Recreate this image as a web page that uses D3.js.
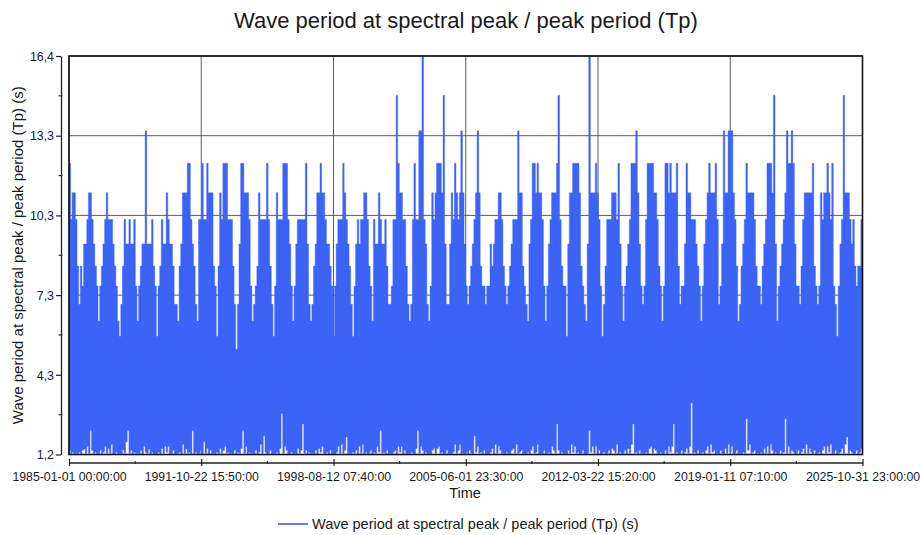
<!DOCTYPE html>
<html>
<head>
<meta charset="utf-8">
<script src="https://cdn.jsdelivr.net/npm/d3@7"></script>
<style>
  html, body { margin: 0; padding: 0; background: #ffffff; }
  svg { display: block; }
  text { font-family: "Liberation Sans", Arial, Helvetica, sans-serif; fill: #1a1a1a; }
</style>
</head>
<body>
<svg id="chart" width="920" height="535"></svg>
<script>
// ---- data -----------------------------------------------------------------
const chartTitle = "Wave period at spectral peak / peak period (Tp)";
const seriesName = "Wave period at spectral peak / peak period (Tp) (s)";
const xTitle = "Time";

const startTime = "1985-01-01 00:00:00";
const endTime = "2025-10-31 23:00:00";

// x tick labels (the record split into six equal spans)
const xTickLabels = [
  "1985-01-01 00:00:00", "1991-10-22 15:50:00", "1998-08-12 07:40:00",
  "2005-06-01 23:30:00", "2012-03-22 15:20:00", "2019-01-11 07:10:00",
  "2025-10-31 23:00:00"
];

// y axis range and tick positions (seconds)
const yDomain = [1.24, 16.36];
const yTicks = [1.24, 4.264, 7.288, 10.312, 13.336, 16.36];

// Monthly maximum of Tp (s), Jan..Dec per row, 1985-01 .. 2025-10
const tpMonthlyMax = [
  12.29, 10.16, 11.17, 11.17, 10.16, 8.39, 6.94, 8.39, 7.63, 9.23, 9.23, 10.16,   // 1985
  11.17, 11.17, 10.16, 9.23, 8.39, 7.63, 6.31, 7.63, 8.39, 9.23, 10.16, 11.17,    // 1986
  10.16, 10.16, 10.16, 9.23, 8.39, 7.63, 6.31, 5.73, 6.94, 8.39, 10.16, 9.23,     // 1987
  9.23, 10.16, 9.23, 9.23, 10.16, 7.63, 6.31, 7.63, 8.39, 9.23, 9.23, 13.52,      // 1988
  9.23, 9.23, 9.23, 10.16, 8.39, 7.63, 5.73, 7.63, 8.39, 10.16, 9.23, 9.23,       // 1989
  11.17, 10.16, 9.23, 9.23, 8.39, 6.94, 6.94, 6.31, 8.39, 9.23, 11.17, 11.17,     // 1990
  11.17, 12.29, 12.29, 10.16, 9.23, 8.39, 6.94, 6.31, 10.16, 10.16, 12.29, 10.16, // 1991
  10.16, 12.29, 11.17, 11.17, 11.17, 8.39, 7.63, 5.73, 8.39, 11.17, 10.16, 12.29, // 1992
  12.29, 12.29, 10.16, 10.16, 10.16, 8.39, 6.94, 5.23, 6.94, 9.23, 12.29, 12.29,  // 1993
  11.17, 11.17, 11.17, 10.16, 7.63, 6.31, 6.94, 7.63, 8.39, 11.17, 10.16, 10.16,  // 1994
  10.16, 10.16, 12.29, 10.16, 8.39, 6.94, 5.73, 7.63, 11.17, 10.16, 10.16, 10.16, // 1995
  12.29, 12.29, 12.29, 10.16, 9.23, 7.63, 6.31, 7.63, 9.23, 10.16, 10.16, 10.16,  // 1996
  10.16, 10.16, 12.29, 9.23, 6.94, 6.31, 6.94, 8.39, 9.23, 11.17, 11.17, 12.29,   // 1997
  11.17, 11.17, 10.16, 9.23, 9.23, 8.39, 7.63, 5.73, 7.63, 9.23, 10.16, 10.16,    // 1998
  10.16, 12.29, 11.17, 10.16, 9.23, 8.39, 6.94, 5.73, 7.63, 9.23, 10.16, 9.23,    // 1999
  10.16, 10.16, 11.17, 11.17, 10.16, 8.39, 7.63, 6.31, 10.16, 9.23, 9.23, 11.17,  // 2000
  10.16, 9.23, 9.23, 10.16, 8.39, 6.94, 6.94, 7.63, 10.16, 10.16, 14.87, 12.29,   // 2001
  11.17, 11.17, 10.16, 10.16, 8.39, 6.94, 6.31, 6.94, 10.16, 12.29, 10.16, 10.16, // 2002
  13.52, 13.52, 16.36, 10.16, 9.23, 6.94, 6.31, 7.63, 11.17, 10.16, 11.17, 12.29, // 2003
  12.29, 12.29, 11.17, 14.87, 9.23, 6.94, 6.94, 9.23, 11.17, 10.16, 12.29, 11.17, // 2004
  10.16, 11.17, 13.52, 11.17, 9.23, 7.63, 6.94, 7.63, 8.39, 9.23, 10.16, 11.17,   // 2005
  13.52, 11.17, 8.39, 7.63, 7.63, 6.94, 7.63, 7.63, 9.23, 8.39, 9.23, 10.16,      // 2006
  10.16, 11.17, 11.17, 10.16, 8.39, 7.63, 6.94, 7.63, 8.39, 9.23, 10.16, 10.16,   // 2007
  10.16, 13.52, 11.17, 11.17, 8.39, 7.63, 6.94, 6.31, 9.23, 10.16, 12.29, 12.29,  // 2008
  11.17, 12.29, 11.17, 11.17, 10.16, 7.63, 6.31, 7.63, 9.23, 10.16, 11.17, 11.17, // 2009
  11.17, 12.29, 14.87, 10.16, 8.39, 7.63, 7.63, 5.73, 9.23, 11.17, 11.17, 12.29,  // 2010
  12.29, 12.29, 12.29, 11.17, 8.39, 7.63, 6.94, 6.31, 9.23, 16.36, 11.17, 11.17,  // 2011
  11.17, 12.29, 11.17, 10.16, 7.63, 5.73, 6.94, 8.39, 10.16, 10.16, 10.16, 11.17, // 2012
  11.17, 11.17, 10.16, 12.29, 9.23, 7.63, 6.31, 7.63, 8.39, 9.23, 10.16, 12.29,   // 2013
  12.29, 12.29, 13.52, 11.17, 9.23, 7.63, 6.94, 7.63, 10.16, 12.29, 12.29, 12.29, // 2014
  12.29, 11.17, 11.17, 10.16, 8.39, 7.63, 6.31, 7.63, 12.29, 12.29, 11.17, 12.29, // 2015
  11.17, 11.17, 11.17, 12.29, 8.39, 6.94, 7.63, 7.63, 9.23, 12.29, 11.17, 11.17,  // 2016
  10.16, 10.16, 10.16, 9.23, 8.39, 7.63, 6.31, 7.63, 9.23, 10.16, 11.17, 12.29,   // 2017
  11.17, 11.17, 11.17, 12.29, 10.16, 6.94, 7.63, 9.23, 13.52, 11.17, 11.17, 13.52,// 2018
  13.52, 13.52, 11.17, 10.16, 8.39, 6.31, 6.94, 8.39, 9.23, 10.16, 12.29, 11.17,  // 2019
  11.17, 11.17, 11.17, 10.16, 8.39, 7.63, 7.63, 6.94, 8.39, 9.23, 10.16, 12.29,   // 2020
  12.29, 12.29, 11.17, 14.87, 9.23, 6.31, 7.63, 8.39, 9.23, 10.16, 11.17, 13.52,  // 2021
  12.29, 12.29, 13.52, 12.29, 9.23, 7.63, 7.63, 6.94, 8.39, 10.16, 11.17, 11.17,  // 2022
  11.17, 11.17, 11.17, 12.29, 8.39, 7.63, 6.94, 7.63, 11.17, 10.16, 11.17, 11.17, // 2023
  12.29, 11.17, 10.16, 12.29, 7.63, 6.94, 5.73, 7.63, 9.23, 10.16, 14.87, 11.17,  // 2024
  11.17, 11.17, 10.16, 9.23, 10.16, 8.39, 7.63, 8.39, 8.39, 10.16                 // 2025
];

// Monthly minimum of Tp (s), same months
const tpMonthlyMin = [
  1.40, 1.27, 1.33, 1.27, 1.29, 1.27, 1.33, 1.27, 1.40, 1.45, 1.29, 1.55, // 1985
  1.29, 2.15, 1.40, 1.27, 1.33, 1.27, 1.27, 1.40, 1.27, 1.33, 1.55, 1.29, // 1986
  1.47, 1.29, 1.63, 1.27, 1.27, 1.33, 1.27, 1.29, 1.27, 1.40, 1.29, 1.72, // 1987
  2.15, 1.29, 1.40, 1.27, 1.33, 1.27, 1.29, 1.27, 1.40, 1.27, 1.55, 1.33, // 1988
  1.29, 1.45, 1.27, 1.33, 1.27, 1.29, 1.27, 1.33, 1.27, 1.47, 1.29, 1.55, // 1989
  1.33, 1.55, 1.27, 1.29, 1.40, 1.27, 1.27, 1.29, 1.33, 1.27, 1.63, 1.29, // 1990
  1.45, 1.29, 1.33, 1.27, 2.15, 1.27, 1.33, 1.27, 1.29, 1.40, 1.27, 1.72, // 1991
  1.29, 1.47, 1.27, 1.40, 1.27, 1.29, 1.27, 1.33, 1.27, 1.47, 1.29, 1.40, // 1992
  1.55, 1.29, 1.33, 1.27, 1.29, 1.27, 1.40, 1.27, 1.33, 1.29, 1.47, 2.15, // 1993
  1.29, 1.55, 1.27, 1.33, 1.27, 1.29, 1.27, 1.40, 1.27, 1.33, 1.63, 1.29, // 1994
  1.95, 1.33, 1.27, 1.29, 1.40, 1.27, 1.29, 1.27, 1.33, 1.27, 1.47, 2.80, // 1995
  1.29, 1.55, 1.40, 1.27, 1.27, 1.33, 1.27, 1.29, 1.27, 1.47, 1.29, 1.40, // 1996
  2.40, 1.29, 1.40, 1.27, 1.33, 1.27, 1.29, 1.27, 1.40, 1.27, 1.47, 1.33, // 1997
  1.55, 1.29, 1.27, 1.33, 1.27, 1.40, 1.27, 1.29, 1.27, 1.33, 1.55, 1.29, // 1998
  1.63, 1.29, 1.40, 1.90, 1.27, 1.29, 1.27, 1.33, 1.29, 1.40, 1.27, 1.55, // 1999
  1.29, 1.63, 1.27, 1.33, 1.27, 1.29, 1.40, 1.27, 1.33, 1.29, 1.55, 1.33, // 2000
  2.15, 1.29, 1.33, 1.27, 1.40, 1.27, 1.29, 1.27, 1.33, 1.40, 1.27, 1.55, // 2001
  1.33, 1.55, 1.27, 1.40, 1.27, 1.29, 1.27, 1.33, 1.29, 1.27, 1.47, 2.15, // 2002
  1.29, 1.55, 1.40, 1.27, 1.33, 1.27, 1.29, 1.27, 1.40, 1.47, 1.29, 1.47, // 2003
  1.55, 1.29, 1.33, 1.27, 1.29, 1.40, 1.27, 1.29, 1.27, 1.33, 1.63, 1.29, // 2004
  1.40, 1.63, 1.27, 1.29, 1.27, 1.33, 1.27, 1.40, 1.29, 1.27, 1.95, 1.33, // 2005
  1.55, 1.29, 1.33, 1.27, 1.40, 1.27, 1.29, 1.27, 1.33, 1.47, 1.27, 1.63, // 2006
  1.29, 1.55, 1.40, 1.27, 1.29, 1.27, 1.33, 1.27, 1.29, 1.40, 1.47, 1.29, // 2007
  1.63, 1.29, 1.33, 1.40, 1.27, 1.29, 1.27, 1.33, 1.27, 1.40, 1.55, 1.29, // 2008
  1.33, 1.63, 1.27, 1.29, 1.27, 1.40, 1.27, 1.29, 1.33, 1.27, 1.55, 1.40, // 2009
  1.29, 2.40, 1.40, 1.27, 1.33, 1.27, 1.29, 1.27, 1.40, 1.29, 1.63, 1.33, // 2010
  1.55, 1.29, 1.33, 1.27, 1.29, 1.40, 1.27, 1.27, 1.29, 2.15, 1.33, 1.55, // 2011
  1.29, 1.55, 1.27, 1.40, 1.27, 1.29, 1.33, 1.27, 1.29, 1.40, 1.27, 1.47, // 2012
  1.40, 1.29, 1.63, 1.27, 1.33, 1.27, 1.29, 1.40, 1.27, 1.47, 1.29, 1.63, // 2013
  2.40, 1.29, 1.33, 1.27, 1.40, 1.27, 1.29, 1.27, 1.33, 1.27, 1.47, 1.55, // 2014
  1.29, 1.47, 1.40, 1.29, 1.27, 1.33, 1.27, 1.29, 1.40, 1.27, 1.55, 1.33, // 2015
  1.55, 2.40, 1.29, 1.33, 1.27, 1.29, 1.40, 1.27, 1.33, 1.47, 1.29, 1.55, // 2016
  3.20, 1.29, 1.33, 1.27, 1.40, 1.27, 1.29, 1.33, 1.27, 1.40, 1.55, 1.29, // 2017
  1.63, 1.33, 1.40, 1.27, 1.29, 1.27, 1.40, 1.29, 1.27, 1.47, 1.29, 1.63, // 2018
  1.33, 1.55, 1.27, 1.29, 1.40, 1.27, 1.29, 1.27, 1.33, 1.29, 2.60, 1.40, // 2019
  1.63, 1.29, 1.33, 1.40, 1.27, 1.29, 1.27, 1.33, 1.27, 1.47, 1.29, 1.55, // 2020
  1.29, 1.63, 1.40, 1.27, 1.33, 1.27, 1.29, 1.40, 1.29, 1.33, 2.60, 1.29, // 2021
  1.55, 1.29, 1.40, 1.33, 1.27, 1.29, 1.40, 1.27, 1.33, 1.47, 1.29, 1.63, // 2022
  1.29, 1.47, 1.33, 1.27, 1.40, 1.27, 1.29, 1.33, 1.27, 1.40, 1.55, 1.29, // 2023
  1.55, 1.33, 1.63, 1.27, 1.29, 1.40, 1.27, 1.29, 1.33, 1.47, 1.29, 1.63, // 2024
  1.90, 1.29, 1.40, 1.33, 1.27, 1.29, 1.40, 1.27, 1.33, 1.47              // 2025
];

// ---- layout ---------------------------------------------------------------
const W = 920, H = 535;
const plot = { left: 69, right: 862.5, top: 56, bottom: 454.5 };
const yAxisX = 61;      // detached y axis line
const xAxisY = 462.5;   // detached x axis line
const blue = "#3b63f5";

const parseTime = d3.utcParse("%Y-%m-%d %H:%M:%S");
const t0 = parseTime(startTime), t1 = parseTime(endTime);

const x = d3.scaleUtc().domain([t0, t1]).range([plot.left, plot.right]);
const y = d3.scaleLinear().domain(yDomain).range([plot.bottom, plot.top]);

const svg = d3.select("#chart");

// title
svg.append("text")
  .attr("x", 466).attr("y", 28)
  .attr("text-anchor", "middle")
  .style("font-size", "22px")
  .text(chartTitle);

// ---- grid -----------------------------------------------------------------
const xTickDates = xTickLabels.map(parseTime);
const grid = svg.append("g").attr("class", "grid");
grid.selectAll("line.h").data(yTicks).join("line")
  .attr("class", "h")
  .attr("x1", plot.left).attr("x2", plot.right)
  .attr("y1", d => y(d)).attr("y2", d => y(d))
  .attr("stroke", "#4a4a4a").attr("stroke-width", 0.9);
grid.selectAll("line.v").data(xTickDates).join("line")
  .attr("class", "v")
  .attr("x1", d => x(d)).attr("x2", d => x(d))
  .attr("y1", plot.top).attr("y2", plot.bottom)
  .attr("stroke", "#4a4a4a").attr("stroke-width", 0.9);

// ---- series: monthly envelope of the hourly record -------------------------
const months = tpMonthlyMax.map((hi, i) => ({
  t: d3.utcMonth.offset(t0, i), hi, lo: tpMonthlyMin[i]
}));
const last = months[months.length - 1];
const envelope = months.concat([{ t: t1, hi: last.hi, lo: last.lo }]);

svg.append("clipPath").attr("id", "plot-clip")
  .append("rect")
  .attr("x", plot.left).attr("y", plot.top - 1)
  .attr("width", plot.right - plot.left).attr("height", plot.bottom - plot.top + 1);

const area = d3.area()
  .curve(d3.curveStepAfter)
  .x(d => x(d.t))
  .y0(d => y(d.lo))
  .y1(d => y(d.hi));

svg.append("path")
  .datum(envelope)
  .attr("clip-path", "url(#plot-clip)")
  .attr("d", area)
  .attr("fill", blue)
  .attr("stroke", blue)
  .attr("stroke-width", 0.4);

// ---- plot frame -----------------------------------------------------------
svg.append("rect")
  .attr("x", plot.left).attr("y", plot.top)
  .attr("width", plot.right - plot.left).attr("height", plot.bottom - plot.top)
  .attr("fill", "none").attr("stroke", "#111").attr("stroke-width", 1.6);

// ---- y axis ---------------------------------------------------------------
const yAxisG = svg.append("g").attr("transform", `translate(${yAxisX},0)`);
yAxisG.call(d3.axisLeft(y).tickValues(yTicks).tickSize(5).tickSizeOuter(0)
  .tickFormat(d => d.toFixed(1).replace(".", ",")));
yAxisG.select(".domain").attr("stroke", "#222").attr("stroke-width", 1.3);
yAxisG.selectAll(".tick line").attr("stroke", "#222").attr("stroke-width", 1.2);
yAxisG.selectAll(".tick text").style("font-size", "12.4px").attr("x", -7).attr("dy", "0.34em");
// minor ticks halfway between labelled ones
const yMinor = yTicks.slice(1).map((v, i) => (v + yTicks[i]) / 2);
yAxisG.selectAll("line.minor").data(yMinor).join("line")
  .attr("class", "minor")
  .attr("x1", -2.5).attr("x2", 1.5)
  .attr("y1", d => y(d)).attr("y2", d => y(d))
  .attr("stroke", "#222").attr("stroke-width", 1.1);

// ---- x axis ---------------------------------------------------------------
const xAxisG = svg.append("g").attr("transform", `translate(0,${xAxisY})`);
xAxisG.call(d3.axisBottom(x).tickValues(xTickDates).tickSize(0).tickSizeOuter(0)
  .tickFormat((d, i) => xTickLabels[i]));
xAxisG.select(".domain").attr("stroke", "#222").attr("stroke-width", 1.3);
xAxisG.selectAll(".tick text").style("font-size", "12.3px").attr("y", 10).attr("dy", "0.71em");
xAxisG.selectAll(".tick").append("line")
  .attr("y1", -3.5).attr("y2", 3.5)
  .attr("stroke", "#222").attr("stroke-width", 1.2);
const xMinor = xTickDates.slice(1).map((d, i) => new Date((+d + +xTickDates[i]) / 2));
xAxisG.selectAll("line.minor").data(xMinor).join("line")
  .attr("class", "minor")
  .attr("x1", d => x(d)).attr("x2", d => x(d))
  .attr("y1", -1.5).attr("y2", 1.5)
  .attr("stroke", "#222").attr("stroke-width", 1.1);

// axis titles
svg.append("text")
  .attr("x", 465).attr("y", 498)
  .attr("text-anchor", "middle")
  .style("font-size", "14.5px")
  .text(xTitle);

svg.append("text")
  .attr("transform", `translate(23,${(plot.top + plot.bottom) / 2}) rotate(-90)`)
  .attr("text-anchor", "middle")
  .style("font-size", "15px")
  .text(seriesName);

// ---- legend ---------------------------------------------------------------
const legend = svg.append("g").attr("transform", "translate(278,524)");
legend.append("line")
  .attr("x1", 0).attr("x2", 30).attr("y1", 0).attr("y2", 0)
  .attr("stroke", blue).attr("stroke-width", 1.6);
legend.append("text")
  .attr("x", 34).attr("y", 5)
  .style("font-size", "14.5px")
  .text(seriesName);
</script>
</body>
</html>
